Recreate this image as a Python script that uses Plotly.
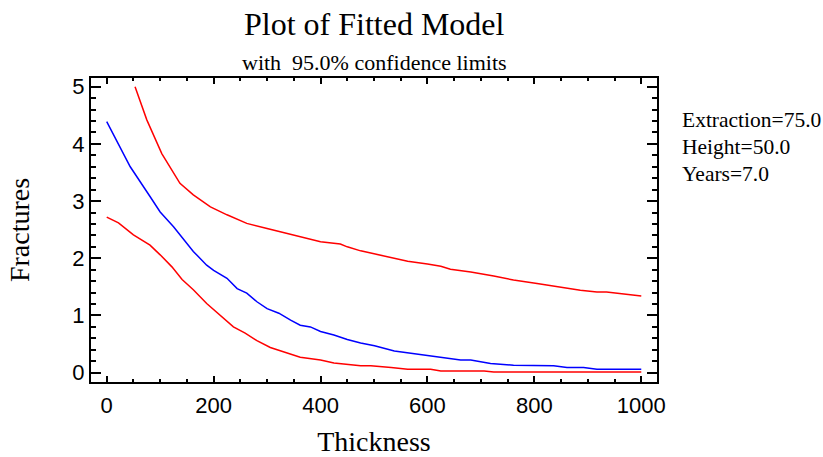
import plotly.graph_objects as go

# Fitted model (blue)
fit_x = [0, 44, 81, 100, 125, 144, 162, 187, 200, 225, 244, 262, 281, 300, 322, 344, 362, 381, 400,
         425, 450, 475, 501, 538, 600, 662, 681, 718, 761, 799, 836, 861, 892, 917, 1000]
fit_y = [4.39, 3.60, 3.08, 2.81, 2.55, 2.32, 2.12, 1.88, 1.79, 1.65, 1.47, 1.39, 1.24, 1.12, 1.04,
         0.92, 0.83, 0.80, 0.72, 0.66, 0.58, 0.52, 0.47, 0.38, 0.30, 0.22, 0.22, 0.16, 0.13, 0.12,
         0.12, 0.09, 0.09, 0.06, 0.06]

# Upper 95% confidence limit (red)
upper_x = [53, 75, 103, 137, 162, 194, 225, 262, 300, 350, 400, 437, 450, 475, 494, 525, 563, 600,
           625, 643, 681, 724, 761, 805, 842, 886, 917, 935, 1000]
upper_y = [5.0, 4.42, 3.83, 3.31, 3.11, 2.90, 2.76, 2.61, 2.52, 2.41, 2.29, 2.25, 2.20, 2.13, 2.09,
           2.03, 1.95, 1.90, 1.86, 1.81, 1.76, 1.69, 1.62, 1.56, 1.50, 1.44, 1.41, 1.41, 1.34]

# Lower 95% confidence limit (red)
lower_x = [0, 22, 50, 81, 100, 122, 141, 162, 187, 212, 237, 259, 281, 306, 337, 362, 400, 425, 475,
           494, 532, 563, 606, 625, 706, 724, 1000]
lower_y = [2.72, 2.62, 2.41, 2.23, 2.06, 1.85, 1.63, 1.45, 1.21, 1.01, 0.80, 0.69, 0.56, 0.44, 0.34,
           0.27, 0.22, 0.17, 0.12, 0.12, 0.09, 0.06, 0.06, 0.03, 0.03, 0.01, 0.01]

x_ticks = [0, 200, 400, 600, 800, 1000]
y_ticks = [0, 1, 2, 3, 4, 5]
conditions = ["Extraction=75.0", "Height=50.0", "Years=7.0"]

title_text = "Plot of Fitted Model"
subtitle_text = "with  95.0% confidence limits"

SERIF = "Liberation Serif, Times New Roman, serif"
SANS = "Liberation Sans, Arial, sans-serif"

fig = go.Figure()
fig.add_trace(go.Scatter(x=upper_x, y=upper_y, mode="lines",
                         line=dict(color="#FF0000", width=1.5), name="Upper limit"))
fig.add_trace(go.Scatter(x=fit_x, y=fit_y, mode="lines",
                         line=dict(color="#0000FF", width=1.5), name="Fitted"))
fig.add_trace(go.Scatter(x=lower_x, y=lower_y, mode="lines",
                         line=dict(color="#FF0000", width=1.5), name="Lower limit"))

L, R, T, B = 91, 166, 78, 75
W, H = 823, 457
plot_h = H - T - B


def py(pix):
    return (H - B - pix) / plot_h


def px(pix):
    return (pix - L) / (W - L - R)


annotations = [
    dict(text=title_text, x=0.5, y=py(24), xref="paper", yref="paper", showarrow=False,
         xanchor="center", yanchor="middle", font=dict(family=SERIF, size=32, color="#000000")),
    dict(text=subtitle_text, x=0.5, y=py(62), xref="paper", yref="paper", showarrow=False,
         xanchor="center", yanchor="middle", font=dict(family=SERIF, size=22, color="#000000")),
]
for i, t in enumerate(conditions):
    annotations.append(dict(text=t, x=px(680), y=py(120 + 27 * i), xref="paper", yref="paper",
                            showarrow=False, xanchor="left", yanchor="middle",
                            font=dict(family=SERIF, size=21.5, color="#000000")))

fig.update_layout(
    width=W, height=H,
    margin=dict(l=L, r=R, t=T, b=B, pad=0),
    paper_bgcolor="white", plot_bgcolor="white",
    showlegend=False,
    annotations=annotations,
    xaxis=dict(
        range=[-29.4, 1029.4], tickvals=x_ticks, ticktext=[str(v) for v in x_ticks],
        showgrid=False, zeroline=False, showline=True, linecolor="black", linewidth=2,
        mirror="ticks", ticks="inside", ticklen=6, tickwidth=1.5, tickcolor="black",
        minor=dict(ticks="inside", dtick=50, tick0=0, ticklen=3, tickwidth=1.5, tickcolor="black", showgrid=False),
        tickfont=dict(family=SANS, size=22, color="black"), ticklabelstandoff=3,
        title=dict(text="Thickness", font=dict(family=SERIF, size=28, color="black"), standoff=18),
        automargin=False,
    ),
    yaxis=dict(
        range=[-0.163, 5.152], tickvals=y_ticks, ticktext=[str(v) for v in y_ticks],
        showgrid=False, zeroline=False, showline=True, linecolor="black", linewidth=2,
        mirror="ticks", ticks="inside", ticklen=10, tickwidth=1.5, tickcolor="black",
        minor=dict(ticks="inside", dtick=0.2, tick0=0, ticklen=5, tickwidth=1.5, tickcolor="black", showgrid=False),
        tickfont=dict(family=SANS, size=22, color="black"),
        title=dict(text="Fractures", font=dict(family=SERIF, size=28, color="black"), standoff=35),
        automargin=False,
    ),
)

fig.write_html("out.html")
